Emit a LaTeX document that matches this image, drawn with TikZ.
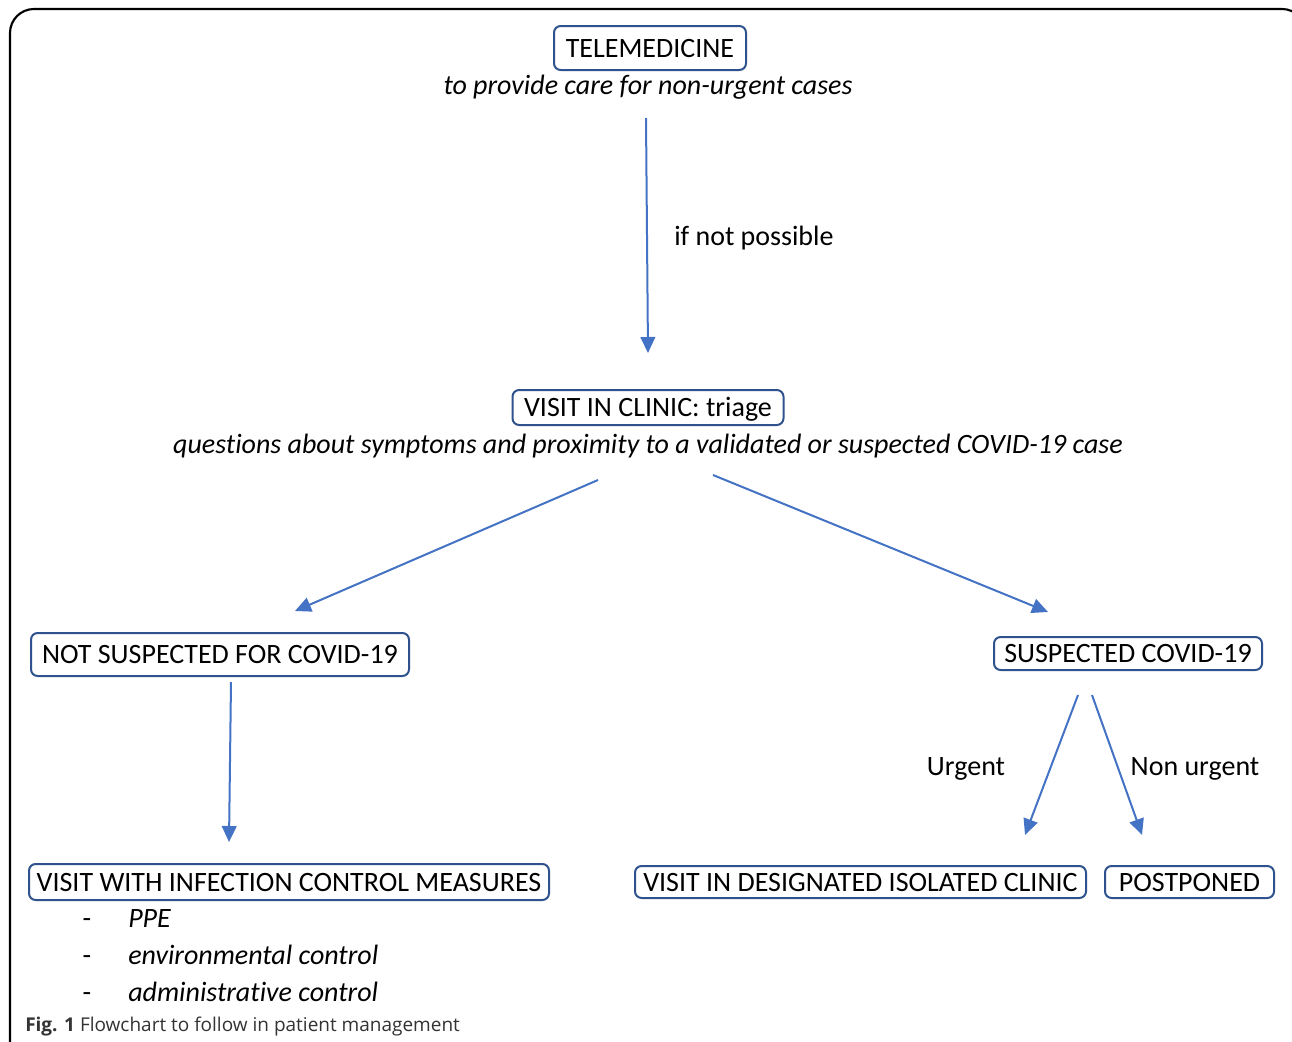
\documentclass[tikz,border=0pt]{standalone}
\usepackage{fontspec}
\setmainfont{Carlito}[Ligatures=CommonOff]
\newfontfamily\capfont{Open Sans}
\usetikzlibrary{arrows.meta}
\definecolor{arrowblue}{HTML}{4472C4}
\definecolor{boxblue}{HTML}{2F528F}
\tikzset{
  box/.style={draw=boxblue, line width=1.5pt, rounded corners=5pt, inner sep=0pt, font=\fontsize{21}{25}\selectfont, anchor=center, text height=13.5pt, text depth=0pt},
  lbl/.style={inner sep=0pt, font=\fontsize{21}{25}\selectfont},
  ilbl/.style={inner sep=0pt, font=\fontsize{21}{25}\selectfont\itshape},
  arr/.style={draw=arrowblue, line width=1.5pt, -{Triangle[length=12pt,width=11pt]}},
}
\begin{document}
\begin{tikzpicture}[x=0.75pt,y=-0.75pt]
\useasboundingbox (0,0) rectangle (1292,1042);
\fill[white] (0,0) rectangle (1292,1042);
% frame
\draw[black, line width=1.6pt, rounded corners=18pt] (10,1060) -- (10,9) -- (1306,9) -- (1306,1060);

% nodes
\node[box, minimum width=192*0.75pt, minimum height=44*0.75pt] (tele) at (650,48) {TELEMEDICINE};
\node[ilbl] (telesub) at (648,87.5) {to provide care for non-urgent cases};
\node[lbl, anchor=west] (notposs) at (674,238.5) {if not possible};
\node[box, minimum width=271*0.75pt, minimum height=35*0.75pt] (visit) at (648,407.5) {VISIT IN CLINIC: triage};
\node[ilbl] (visitsub) at (648,446.5) {questions about symptoms and proximity to a validated or suspected COVID-19 case};
\node[box, minimum width=378*0.75pt, minimum height=43*0.75pt] (notsusp) at (220,654.5) {NOT SUSPECTED FOR COVID-19};
\node[box, minimum width=268*0.75pt, minimum height=33*0.75pt] (susp) at (1128,653.5) {SUSPECTED COVID-19};
\node[lbl] (urgent) at (966,768.5) {Urgent};
\node[lbl] (nonurgent) at (1195,768.5) {Non urgent};
\node[box, minimum width=520*0.75pt, minimum height=36*0.75pt] (infect) at (289,882) {VISIT WITH INFECTION CONTROL MEASURES};
\node[box, minimum width=451*0.75pt, minimum height=32*0.75pt] (isol) at (860.5,882) {VISIT IN DESIGNATED ISOLATED CLINIC};
\node[box, minimum width=169*0.75pt, minimum height=32*0.75pt] (postp) at (1189.5,882) {POSTPONED};

% list
\node[lbl, anchor=base] (d1) at (87,927) {-};
\node[lbl, anchor=base] (d2) at (87,964) {-};
\node[lbl, anchor=base] (d3) at (87,1001) {-};
\node[ilbl, anchor=base west] (l1) at (128,927) {PPE};
\node[ilbl, anchor=base west] (l2) at (128,964) {environmental control};
\node[ilbl, anchor=base west] (l3) at (128,1001) {administrative control};

% caption
\node[inner sep=0pt, anchor=west, font=\capfont\fontsize{14.25}{16}\selectfont, text=black!80] (cap) at (25,1027) {\textbf{Fig. 1} Flowchart to follow in patient management};

% connector end points
\coordinate (a1s) at (646,118);
\coordinate (a1e) at (648,353);
\coordinate (a2s) at (598,480);
\coordinate (a2e) at (295,611);
\coordinate (a3s) at (713,475);
\coordinate (a3e) at (1048,612);
\coordinate (a4s) at (231,682);
\coordinate (a4e) at (229,842);
\coordinate (a5s) at (1078,695);
\coordinate (a5e) at (1025,835);
\coordinate (a6s) at (1092,695);
\coordinate (a6e) at (1142,835);

\draw[arr] (a1s) -- (a1e);
\draw[arr] (a2s) -- (a2e);
\draw[arr] (a3s) -- (a3e);
\draw[arr] (a4s) -- (a4e);
\draw[arr] (a5s) -- (a5e);
\draw[arr] (a6s) -- (a6e);
\end{tikzpicture}
\end{document}
